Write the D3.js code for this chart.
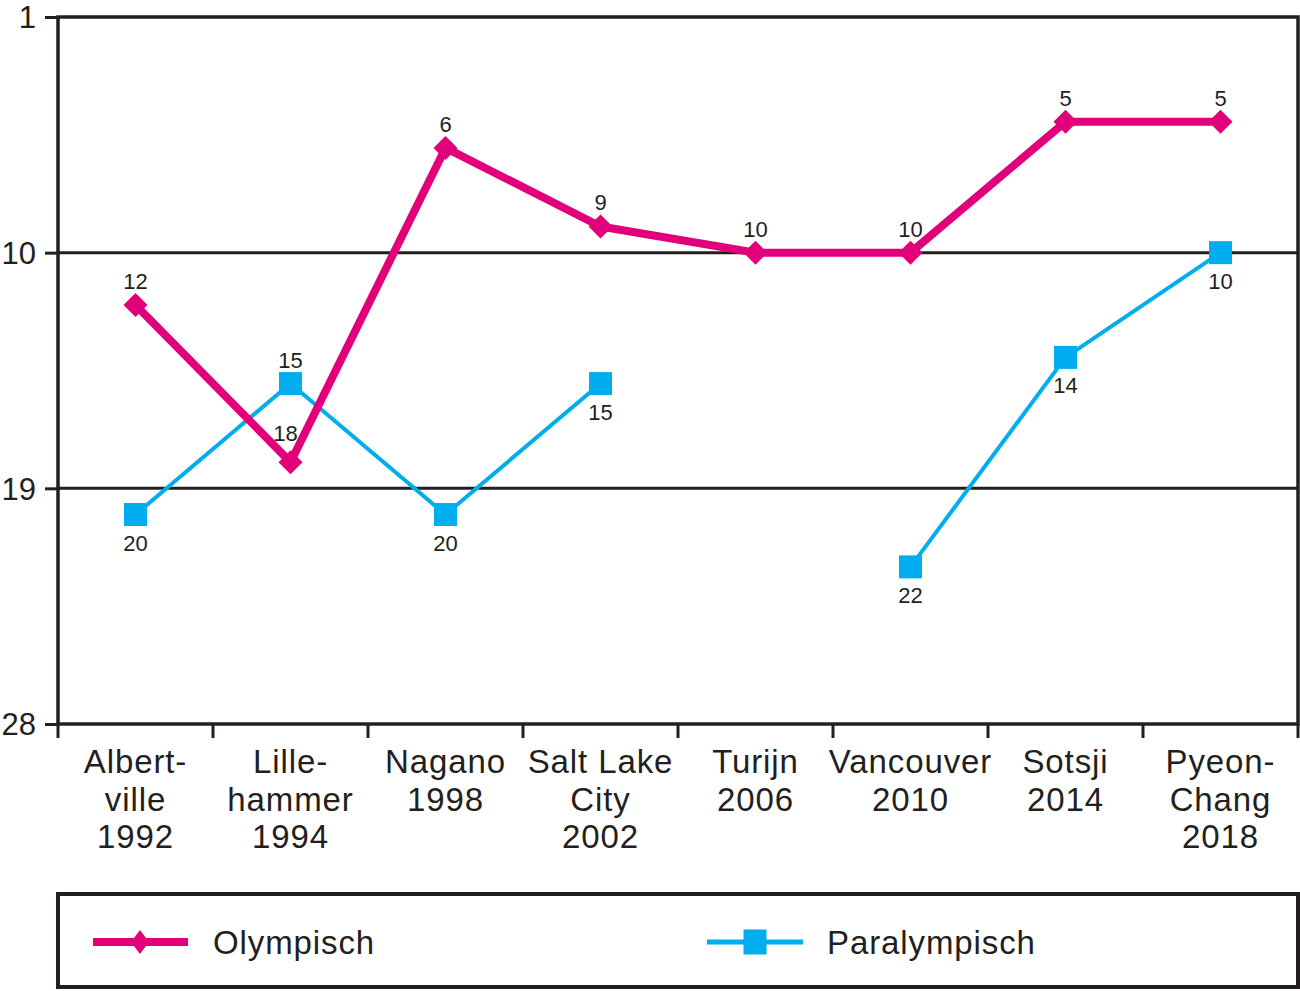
<!DOCTYPE html>
<html>
<head>
<meta charset="utf-8">
<script src="https://cdn.jsdelivr.net/npm/d3@7"></script>
<style>
  html, body { margin: 0; padding: 0; background: #fff; }
  svg { display: block; }
  text { font-family: "Liberation Sans", Arial, sans-serif; fill: #231f20; }
</style>
</head>
<body>
<script>
const categories = [
  ["Albert-", "ville", "1992"],
  ["Lille-", "hammer", "1994"],
  ["Nagano", "1998"],
  ["Salt Lake", "City", "2002"],
  ["Turijn", "2006"],
  ["Vancouver", "2010"],
  ["Sotsji", "2014"],
  ["Pyeon-", "Chang", "2018"]
];
const olympisch = [12, 18, 6, 9, 10, 10, 5, 5];
const paralympisch = [20, 15, 20, 15, null, 22, 14, 10];
const yTicks = [1, 10, 19, 28];
const seriesNames = ["Olympisch", "Paralympisch"];
// label placement: "a" above, "b" below
const olyLabelPos = ["a", "a", "a", "a", "a", "a", "a", "a"];
const paraLabelPos = ["b", "a", "b", "b", null, "b", "b", "b"];

(function () {
const W = 1300, H = 991;
const dark = "#231f20", pink = "#e2007a", blue = "#00aeef";
const pLeft = 58, pRight = 1298, pTop = 17, pBottom = 724;

const svg = d3.select("body").append("svg").attr("width", W).attr("height", H);

const x = d3.scaleBand().domain(d3.range(categories.length)).range([pLeft, pRight]);
const y = d3.scaleLinear().domain([1, 28]).range([pTop, pBottom]);
const cx = i => x(i) + x.bandwidth() / 2;

// gridlines
svg.append("g").selectAll("line").data([10, 19]).join("line")
  .attr("x1", pLeft).attr("x2", pRight)
  .attr("y1", d => y(d)).attr("y2", d => y(d))
  .attr("stroke", dark).attr("stroke-width", 3);

// y axis
const yAxis = d3.axisLeft(y).tickValues(yTicks).tickSize(13).tickPadding(9);
const gy = svg.append("g").attr("transform", `translate(${pLeft},0)`).call(yAxis);
gy.select(".domain").remove();
gy.selectAll(".tick line").attr("stroke", dark).attr("stroke-width", 3);
gy.selectAll(".tick text").attr("font-size", 31).attr("fill", dark)
  .attr("font-family", "Liberation Sans, Arial, sans-serif").attr("dy", "0.35em");

// x axis ticks at band boundaries
const bounds = d3.range(categories.length + 1).map(i => i === categories.length ? pRight : x(i));
svg.append("g").selectAll("line").data(bounds).join("line")
  .attr("x1", d => d).attr("x2", d => d)
  .attr("y1", pBottom).attr("y2", pBottom + 14)
  .attr("stroke", dark).attr("stroke-width", 3);

// x labels
const xl = svg.append("g");
categories.forEach((lines, i) => {
  const t = xl.append("text").attr("x", cx(i)).attr("y", 773)
    .attr("text-anchor", "middle").attr("font-size", 33).attr("letter-spacing", 0.9);
  lines.forEach((ln, j) => {
    t.append("tspan").attr("x", cx(i)).attr("y", 773 + j * 37.5).text(ln);
  });
});

// frame
svg.append("rect").attr("x", pLeft).attr("y", pTop)
  .attr("width", pRight - pLeft).attr("height", pBottom - pTop)
  .attr("fill", "none").attr("stroke", dark).attr("stroke-width", 3.5);

// lines
const line = d3.line().defined(d => d[1] != null).x(d => cx(d[0])).y(d => y(d[1]));
const paraData = paralympisch.map((v, i) => [i, v]);
const olyData = olympisch.map((v, i) => [i, v]);

svg.append("path").datum(paraData).attr("d", line)
  .attr("fill", "none").attr("stroke", blue).attr("stroke-width", 4)
  .attr("stroke-linejoin", "round");
svg.append("g").selectAll("rect").data(paraData.filter(d => d[1] != null)).join("rect")
  .attr("x", d => cx(d[0]) - 11.5).attr("y", d => y(d[1]) - 11.5)
  .attr("width", 23).attr("height", 23).attr("fill", blue);

svg.append("path").datum(olyData).attr("d", line)
  .attr("fill", "none").attr("stroke", pink).attr("stroke-width", 8)
  .attr("stroke-linejoin", "round");
const diamond = (px, py, hw, hh) => `M${px},${py - hh}L${px + hw},${py}L${px},${py + hh}L${px - hw},${py}Z`;
svg.append("g").selectAll("path").data(olyData).join("path")
  .attr("d", d => diamond(cx(d[0]), y(d[1]), 12, 12)).attr("fill", pink);

// data labels
svg.append("g").selectAll("text").data(olyData).join("text")
  .attr("x", d => cx(d[0]) + (d[0] === 1 ? -5 : 0))
  .attr("y", d => y(d[1]) + (olyLabelPos[d[0]] === "a" ? (d[0] === 1 ? -21 : -16) : 36))
  .attr("text-anchor", "middle").attr("font-size", 22).text(d => d[1]);
svg.append("g").selectAll("text").data(paraData.filter(d => d[1] != null)).join("text")
  .attr("x", d => cx(d[0]))
  .attr("y", d => y(d[1]) + (paraLabelPos[d[0]] === "a" ? -16 : 36))
  .attr("text-anchor", "middle").attr("font-size", 22).text(d => d[1]);

// legend
svg.append("rect").attr("x", pLeft).attr("y", 894).attr("width", pRight - pLeft).attr("height", 93)
  .attr("fill", "none").attr("stroke", dark).attr("stroke-width", 4);
const lg = svg.append("g");
lg.append("line").attr("x1", 93).attr("x2", 188).attr("y1", 942).attr("y2", 942)
  .attr("stroke", pink).attr("stroke-width", 8);
lg.append("path").attr("d", diamond(140, 942, 9, 12)).attr("fill", pink);
lg.append("text").attr("x", 213).attr("y", 954).attr("font-size", 33).attr("letter-spacing", 0.9).text(seriesNames[0]);
lg.append("line").attr("x1", 707).attr("x2", 803).attr("y1", 942).attr("y2", 942)
  .attr("stroke", blue).attr("stroke-width", 5);
lg.append("rect").attr("x", 755 - 11.5).attr("y", 942 - 12.5).attr("width", 23).attr("height", 25).attr("fill", blue);
lg.append("text").attr("x", 827).attr("y", 954).attr("font-size", 33).attr("letter-spacing", 0.9).text(seriesNames[1]);
})();
</script>
</body>
</html>
